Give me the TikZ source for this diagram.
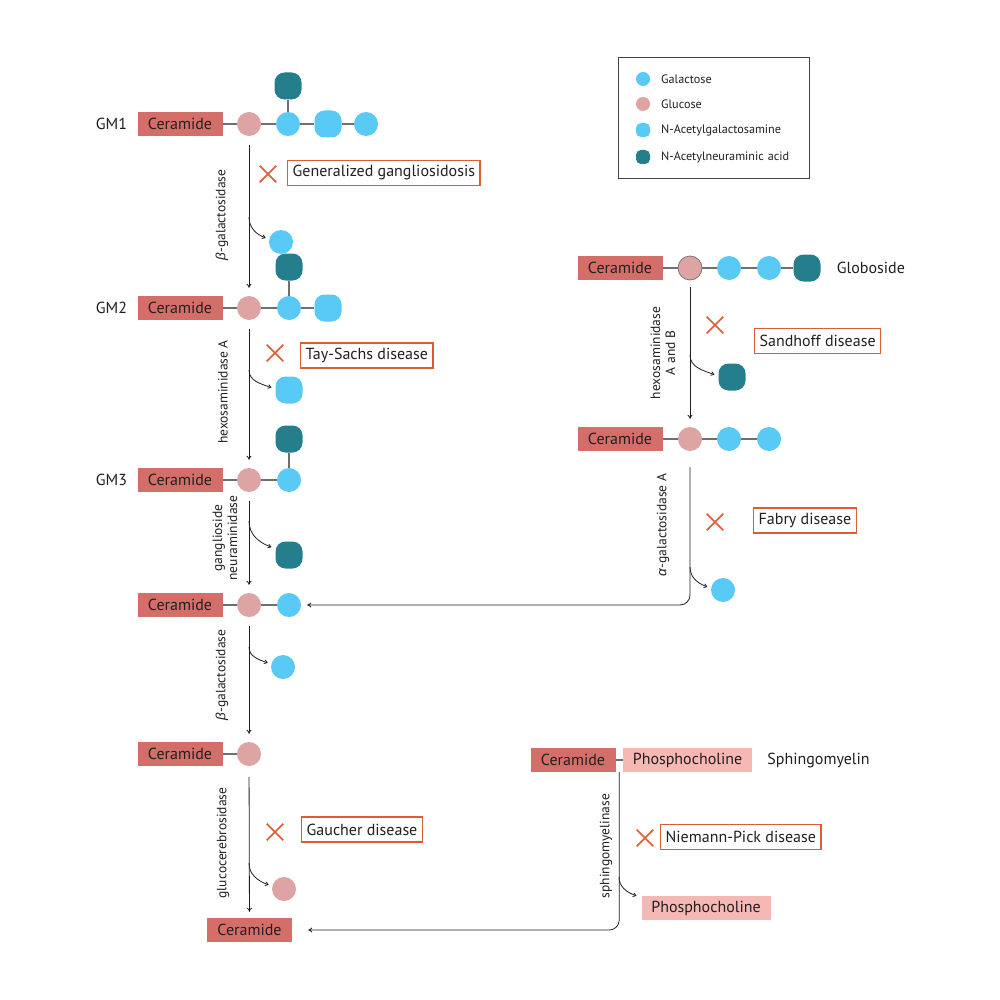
\documentclass[tikz,border=0pt]{standalone}
\usepackage{fontspec}
\setmainfont{PT Sans}
\newfontfamily\greekfont{Liberation Sans}
\usetikzlibrary{positioning, shapes.misc, arrows.meta, calc}

\definecolor{cerred}{RGB}{212,110,104}
\definecolor{glcpink}{RGB}{222,163,163}
\definecolor{galblue}{RGB}{88,202,245}
\definecolor{neuteal}{RGB}{37,126,139}
\definecolor{disred}{RGB}{221,93,50}
\definecolor{phospink}{RGB}{245,184,180}
\definecolor{linkgray}{RGB}{110,110,110}
\definecolor{inkdark}{RGB}{35,31,32}

\begin{document}
\begin{tikzpicture}[x=1pt, y=-1pt,
    cer/.style={rectangle, fill=cerred, minimum width=85pt, minimum height=24pt, inner sep=0pt, text=inkdark, font=\fontsize{16}{18}\selectfont},
    phos/.style={cer, fill=phospink, minimum width=129pt},
    glc/.style={circle, fill=glcpink, minimum size=24pt, inner sep=0pt},
    gal/.style={glc, fill=galblue},
    galnac/.style={rectangle, rounded corners=10pt, fill=galblue, minimum width=27pt, minimum height=27pt, inner sep=0pt},
    neu/.style={galnac, fill=neuteal},
    dis/.style={rectangle, draw=disred, line width=1.3pt, fill=white, minimum height=25pt, inner xsep=5pt, anchor=west, text=inkdark, font=\fontsize{16}{18}\selectfont},
    block/.style={cross out, draw=disred, line width=1.6pt, minimum size=15pt, inner sep=0pt},
    link/.style={draw=linkgray, line width=1.3pt},
    stepto/.style={draw=inkdark, line width=0.8pt, -{To[length=4pt,width=5pt]}, shorten <=9pt, shorten >=8pt},
    cleave/.style={draw=inkdark, line width=0.8pt, -{To[length=3.5pt,width=4.5pt]}},
    enz/.style={rotate=90, align=center, inner sep=0pt, text=inkdark, font=\fontsize{13.5}{15}\selectfont},
    tag/.style={inner sep=0pt, text=inkdark, font=\fontsize{16}{18}\selectfont},
    legtxt/.style={anchor=west, inner sep=0pt, text=inkdark, font=\fontsize{12.2}{14}\selectfont}]

    \fill[white] (0,0) rectangle (1000,1000);
    \useasboundingbox (0,0) rectangle (1000,1000);

    % Legend
    \draw[linkgray!60!black, line width=0.8pt] (618,57) rectangle (809,178);
    \node[gal, minimum size=14pt] (lg1) at (643,79) {};
    \node[glc, minimum size=14pt] (lg2) at (643,104) {};
    \node[galnac, minimum width=14pt, minimum height=14pt, rounded corners=5pt] (lg3) at (643,130) {};
    \node[neu, minimum width=14pt, minimum height=14pt, rounded corners=5pt] (lg4) at (643,157) {};
    \node[legtxt] (lt1) at (661,79) {Galactose};
    \node[legtxt] (lt2) at (661,104) {Glucose};
    \node[legtxt] (lt3) at (661,130) {N-Acetylgalactosamine};
    \node[legtxt] (lt4) at (661,157) {N-Acetylneuraminic\,\,acid};

    % GM1
    \node[cer] (c1) at (180,124) {Ceramide};
    \node[glc] (g1) at (249,124) {};
    \node[gal] (a1) at (288,124) {};
    \node[galnac] (n1) at (328,124) {};
    \node[gal] (b1) at (366,124) {};
    \node[neu] (s1) at (288,86) {};
    \node[tag, left=10pt of c1] (gm1) {GM1};
    \draw[link] (c1) -- (g1) -- (a1) -- (n1) -- (b1);
    \draw[link] (a1) -- (s1);

    % GM2
    \node[cer] (c2) at (180,308) {Ceramide};
    \node[glc] (g2) at (249,308) {};
    \node[gal] (a2) at (289,308) {};
    \node[galnac] (n2) at (328,308) {};
    \node[neu] (s2) at (289,267) {};
    \node[tag, left=10pt of c2] (gm2) {GM2};
    \draw[link] (c2) -- (g2) -- (a2) -- (n2);
    \draw[link] (a2) -- (s2);

    % GM1 -> GM2
    \draw[stepto] (g1) -- (g2);
    \node[enz] (e1) at (222,215) {{\greekfont\itshape β}-galactosidase};
    \node[block] (t1) at (268,174) {};
    \node[dis] (d1) at (287,173) {Generalized gangliosidosis};
    \node[gal] (r1) at (281,242) {};
    \coordinate (k1) at (249,217);
    \draw[cleave] (k1) to[out=-90,in=160] ([xshift=-4pt]r1.160);

    % GM3
    \node[cer] (c3) at (180,480) {Ceramide};
    \node[glc] (g3) at (249,480) {};
    \node[gal] (a3) at (289,480) {};
    \node[neu] (s3) at (289,439) {};
    \node[tag, left=10pt of c3] (gm3) {GM3};
    \draw[link] (c3) -- (g3) -- (a3);
    \draw[link] (a3) -- (s3);

    % GM2 -> GM3
    \draw[stepto] (g2) -- (g3);
    \node[enz] (e2) at (223,392) {hexosaminidase A};
    \node[block] (t2) at (275,353) {};
    \node[dis] (d2) at (300,355.5) {Tay-Sachs disease};
    \node[galnac] (r2) at (289,390) {};
    \coordinate (k2) at (249,370);
    \draw[cleave] (k2) to[out=-90,in=160] ([xshift=-4pt]r2.170);

    % Lactosylceramide
    \node[cer] (c4) at (180,605) {Ceramide};
    \node[glc] (g4) at (249,605) {};
    \node[gal] (a4) at (289,605) {};
    \draw[link] (c4) -- (g4) -- (a4);

    % GM3 -> lactosylceramide
    \draw[stepto] (g3) -- (g4);
    \node[enz] (e3) at (225,538) {ganglioside\\neuraminidase};
    \node[neu] (r3) at (289,555) {};
    \coordinate (k3) at (249,521);
    \draw[cleave] (k3) to[out=-90,in=160] ([xshift=-4pt]r3.150);

    % Glucosylceramide
    \node[cer] (c5) at (180,754) {Ceramide};
    \node[glc] (g5) at (249,754) {};
    \draw[link] (c5) -- (g5);

    % Lactosylceramide -> glucosylceramide
    \draw[stepto] (g4) -- (g5);
    \node[enz] (e4) at (222,675) {{\greekfont\itshape β}-galactosidase};
    \node[gal] (r4) at (283,667) {};
    \coordinate (k4) at (249,647);
    \draw[cleave] (k4) to[out=-90,in=160] ([xshift=-4pt]r4.160);

    % Glucosylceramide -> ceramide
    \node[cer] (c6) at (249.5,930) {Ceramide};
    \draw[stepto, shorten <=11pt, shorten >=6pt] (g5) -- (c6);
    \node[enz] (e5) at (223,843) {glucocerebrosidase};
    \node[block] (t5) at (275,832) {};
    \node[dis] (d5) at (301,829.5) {Gaucher disease};
    \node[glc] (r5) at (284,889) {};
    \coordinate (k5) at (249,863);
    \draw[cleave] (k5) to[out=-90,in=160] ([xshift=-4pt]r5.160);

    % Globoside
    \node[cer] (c7) at (620,268) {Ceramide};
    \node[glc, draw=linkgray, line width=0.7pt] (g7) at (690,268) {};
    \node[gal] (a7) at (729,268) {};
    \node[gal] (b7) at (769,268) {};
    \node[neu] (s7) at (807,268) {};
    \node[tag, right=16pt of s7] (glob) {Globoside};
    \draw[link] (c7) -- (g7) -- (a7) -- (b7) -- (s7);

    % Trihexosylceramide
    \node[cer] (c8) at (620,439) {Ceramide};
    \node[glc] (g8) at (690,439) {};
    \node[gal] (a8) at (729,439) {};
    \node[gal] (b8) at (769,439) {};
    \draw[link] (c8) -- (g8) -- (a8) -- (b8);

    % Globoside -> trihexosylceramide
    \draw[stepto, shorten <=7pt] (g7) -- (g8);
    \node[enz] (e6) at (663,353) {hexosaminidase\\A and B};
    \node[block] (t3) at (715,325) {};
    \node[dis] (d3) at (754,341) {Sandhoff disease};
    \node[neu] (r6) at (732,377) {};
    \coordinate (k6) at (690,355);
    \draw[cleave] (k6) to[out=-90,in=160] ([xshift=-4pt]r6.170);

    % Trihexosylceramide -> lactosylceramide
    \draw[stepto, rounded corners=10pt, shorten <=16pt, shorten >=6pt] (g8) |- (a4);
    \node[enz] (e7) at (663,525) {{\greekfont\itshape α}-galactosidase A};
    \node[block] (t4) at (715,522) {};
    \node[dis] (d4) at (753,520.5) {Fabry disease};
    \node[gal] (r7) at (723,590) {};
    \coordinate (k7) at (690,567);
    \draw[cleave] (k7) to[out=-90,in=160] ([xshift=-4pt]r7.165);

    % Sphingomyelin
    \node[cer] (c9) at (573,760) {Ceramide};
    \node[phos] (p9) at (687.5,760) {Phosphocholine};
    \node[tag, right=15pt of p9] (sphm) {Sphingomyelin};
    \draw[link] (c9) -- (p9);

    % Sphingomyelin -> ceramide
    \coordinate (sm) at ($(c9.south east)!0.5!(p9.south west)$);
    \draw[stepto, rounded corners=10pt, shorten <=0pt, shorten >=16pt] (sm) |- (c6);
    \node[enz] (e8) at (606,846) {sphingomyelinase};
    \node[block] (t6) at (645,838) {};
    \node[dis] (d6) at (660,837) {Niemann-Pick disease};
    \node[phos] (r8) at (706,908) {Phosphocholine};
    \coordinate (k8) at (619,877);
    \draw[cleave] (k8) to[out=-90,in=160] ([xshift=-5pt]r8.north west);
\end{tikzpicture}
\end{document}
